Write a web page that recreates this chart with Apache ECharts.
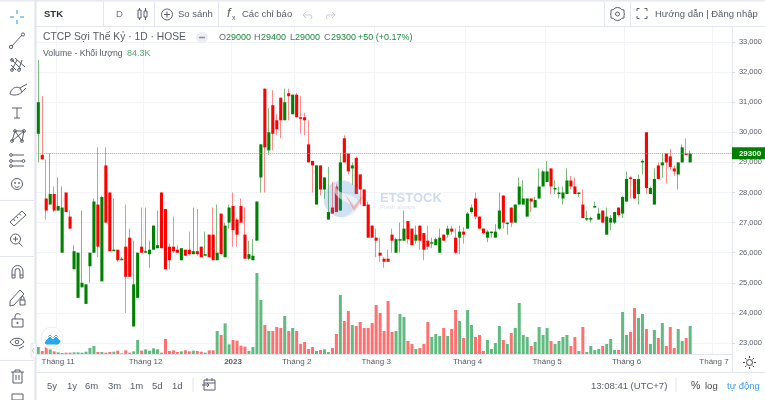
<!DOCTYPE html>
<html>
<head>
<meta charset="utf-8">
<style>html,body{margin:0;padding:0;background:#fff}#c{width:765px;height:400px}</style>
<script src="https://cdn.jsdelivr.net/npm/echarts@6/dist/echarts.min.js"></script>
</head>
<body>
<div id="c"></div>
<script>
const opens = [29950,29250,27800,27600,27950,27400,26000,28000,27200,25450,24500,24850,24300,25550,26000,27600,25050,28900,28000,26050,26100,25750,26200,26500,23550,24500,26200,26000,25950,26100,26150,28000,27450,26200,26200,26100,25750,26100,26100,25950,26050,26200,25900,26600,26600,25750,27300,25850,27000,27550,27100,27550,26600,25800,25750,26400,28500,31450,29400,30900,30400,31150,30400,31300,30600,31250,30500,30500,29600,29050,27600,28900,28100,27100,27500,28200,27400,29800,29300,28800,29150,28600,28100,27600,26900,26500,26000,25800,25800,26600,26000,26400,26400,27050,26800,26400,26900,26650,26400,26300,26250,26000,26600,26600,26800,26500,26500,26700,26800,27350,27800,27200,26800,26500,26650,26500,26800,27900,26950,27500,27000,27600,27600,27200,27800,27500,27800,28200,28350,28800,28100,27950,27800,27950,28400,28200,27950,27600,27100,27100,27500,27100,27400,26600,27000,27000,27500,27300,27700,28500,28450,27950,29000,30000,27950,27600,28900,28900,29300,29200,28800,28600,29000,29300,29000];
const closes = [31000,29100,27400,27950,27400,27550,27500,27350,26800,26050,26000,25000,24950,26000,27700,26200,27850,27000,26050,26100,25750,25800,25200,25200,24950,26000,26000,26050,26100,26900,26250,26150,25450,25750,26050,26000,26150,25900,25950,26050,25950,25850,25950,25850,25750,26000,25950,26900,27500,26750,26600,27000,25800,25950,25900,27700,29600,29500,30000,29950,30100,30400,31000,31200,31250,30500,30450,30400,29000,28900,28900,28100,28500,27350,27300,27350,29000,29000,28700,28900,27950,28100,27550,26500,26500,26400,25900,25700,25700,26400,26450,26450,26800,26450,26250,26600,26400,26100,26200,26350,26450,26500,26400,26800,26700,26000,26700,26600,27300,27500,27200,26800,26650,26700,26700,26700,27400,27000,27000,27000,27600,28200,27800,27800,27700,27750,28200,28700,28700,28200,28150,28000,28000,28400,28200,27950,28000,27150,27150,27150,27550,27300,27000,27200,27150,27350,27250,27850,28450,28450,27800,28450,29050,28150,28150,28450,28450,29000,29000,28850,28700,29000,29500,29250,29300];
const lows = [29000,29100,27100,27600,27350,27400,26000,27350,26800,25450,24500,24850,24300,25000,26000,25850,25050,27000,26050,26050,25700,25750,24000,25200,23550,24500,26000,26000,25500,26100,26150,26150,25450,25450,26000,26000,25750,25900,25900,25950,25900,25850,25900,25850,25750,25750,25950,25850,26800,26200,26200,27000,25800,25750,25750,26400,28000,28000,29250,29400,29900,29800,30400,30400,30600,30500,29950,29900,29000,28000,27600,27900,27800,27100,27300,27350,27400,29000,28600,28250,27950,27600,27550,26500,26500,25850,25700,25500,25700,26000,26000,26000,26400,26300,26250,26300,26100,25750,26100,26150,26250,26000,26400,26500,26600,25950,25950,26300,26800,27300,27100,26800,26600,26350,26500,26500,26750,26800,26600,26850,27000,27600,27600,27200,27350,27500,27800,28200,28350,27950,27950,27800,27600,27950,28100,27950,27850,27150,27050,27000,27500,27100,27000,26600,26750,26950,27200,27150,27700,27800,27800,27600,28600,27950,27950,27600,28450,28500,28300,28750,28550,28100,29000,29250,29000];
const highs = [32400,31200,29100,29300,28200,28500,28200,28000,27400,26250,26000,27400,24950,26000,27800,29500,27900,29500,28000,27800,26100,25850,27600,26800,26400,26000,27500,27500,26400,26900,27400,28000,27450,26300,27200,26250,26150,26100,26700,27500,27450,26200,26700,26600,27500,27600,27300,27000,27600,28000,27150,27800,27500,26400,26450,27700,29600,31450,30800,31400,30600,31150,31450,31450,31250,31300,31200,30650,30400,29050,28900,28900,28500,28850,28350,28300,29300,29900,29300,29000,29200,28600,28100,27700,26900,26800,26500,25850,26100,26800,26500,27000,27400,27050,26800,26900,26900,26650,26900,26500,26500,26800,26600,26900,26900,26800,26900,26850,27350,27600,28000,27200,26800,26750,26700,26950,28000,27900,27000,27500,27600,28500,28400,27800,27800,27850,28800,28750,29050,28800,28400,28200,28200,28800,28550,28500,28000,28100,27400,27200,27700,27500,27400,27500,27250,27350,27500,27900,28700,28550,28450,28600,29100,30000,28200,28800,29000,29300,29300,29450,28900,29000,29600,29800,29400];
const volumes = [21,9,20,14,8,5,3,4,4,5,5,4,7,18,24,6,6,4,6,7,10,2,11,4,8,42,10,14,10,17,14,4,45,9,11,6,8,11,8,10,9,7,4,11,11,69,57,92,29,42,40,25,22,9,21,243,162,87,69,69,81,78,114,69,78,69,30,36,15,21,9,12,14,6,18,60,177,99,129,87,84,96,78,78,93,147,123,69,159,66,69,120,111,39,30,15,18,30,96,51,60,54,78,54,75,132,99,48,132,87,51,57,9,42,15,33,84,42,30,63,78,153,57,51,24,36,81,57,78,39,30,39,51,57,24,51,9,81,6,24,12,15,24,30,45,12,12,126,57,66,138,108,120,75,30,72,48,93,24,81,18,75,39,48,84.3];
const monthAt = {5:'Tháng 11',27:'Tháng 12',49:'2023',65:'Tháng 2',85:'Tháng 3',108:'Tháng 4',128:'Tháng 5',148:'Tháng 6',170:'Tháng 7'};
const priceTicks = [23000,33000,1000];
const lastClose = 29300;
const categories = Array.from({length:175},(_,i)=>'d'+i);

const UP='#008000', DOWN='#ff0000', INK='#5a5f6c', FONT='"Liberation Sans",Arial,sans-serif';
const isMonth = i => monthAt[i] !== undefined;
const g = [];
let pathId=0;
const line=(x1,y1,x2,y2,c=INK,w=1)=>g.push({type:'line',silent:true,z:50,shape:{x1,y1,x2,y2},style:{stroke:c,lineWidth:w}});
const circ=(cx,cy,r,c=INK,fill='none',w=1)=>g.push({type:'circle',silent:true,z:50,shape:{cx,cy,r},style:{stroke:c,fill,lineWidth:w}});
const rect=(x,y,width,height,fill,stroke,z=50,r=0)=>g.push({type:'rect',silent:true,z,shape:{x,y,width,height,r},style:{fill,stroke:stroke||'none',lineWidth:1}});
const path=(d,c=INK,fill='none',w=1,z=50)=>{
  const name='glyph'+(pathId++);
  echarts.graphic.registerShape(name,echarts.graphic.extendPath(d,{}));
  g.push({type:name,silent:true,z,style:{stroke:c,fill,lineWidth:w}});
};
const txt=(text,x,y,size,fill='#555b66',weight='normal',align='left')=>g.push({type:'text',silent:true,z:51,style:{text,x,y,font:`${weight} ${size}px ${FONT}`,fill,textAlign:align,textVerticalAlign:'middle'}});

const BORDER='#e3e6ee';
rect(0,0,765,1.5,'#e8eaf0');
rect(34.5,0,2,400,'#dfe4ee');
line(36,26.5,765,26.5,BORDER);
line(36,372.5,765,372.5,BORDER);
[103.5,154.5,218.5,604.5,630.5].forEach(x=>line(x,2,x,26,BORDER));
[200.5,256.5,360.5].forEach(y=>line(0,y,34,y,BORDER));
line(732.5,354,732.5,372,BORDER);
line(193,378,193,392,BORDER); line(676,378,676,392,BORDER);

// top toolbar
txt('STK',44,14.5,9.5,'#2a2e39','bold');
txt('D',116,14.5,9.5,'#777');
line(139.5,8,139.5,20,INK); rect(138,10,3,8,'#fff',INK);
line(145.5,8,145.5,20,INK); rect(144,11,3,6,'#fff',INK);
circ(167,14.5,5.5); line(167,11.5,167,17.5); line(164,14.5,170,14.5);
txt('So sánh',178,14.5,9.5);
txt('f',227,13.5,13,INK,'italic'); txt('x',232,18,7,INK);
txt('Các chỉ báo',242,14.5,9.5);
path('M306 12 L303 15 L306 18 M303 15 H311 A3 3 0 0 1 311 19','#c9ccd4');
path('M332 12 L335 15 L332 18 M335 15 H327 A3 3 0 0 0 327 19','#c9ccd4');
circ(617.5,14,2); path('M617.5 7.5 L620 8 L621.5 9.5 L624 10 L624 13 L624.5 14 L624 15.5 L624 18 L621.5 18.5 L620 20 L617.5 20.5 L615 20 L613.5 18.5 L611 18 L611 15.5 L610.5 14 L611 13 L611 10 L613.5 9.5 L615 8 Z');
path('M637 11 V8.5 H639.5 M644.5 8.5 H647 V11 M647 16 V18.5 H644.5 M639.5 18.5 H637 V16');
txt('Hướng dẫn | Đăng nhập',655,14.5,9.5);

// legend rows
txt('CTCP Sợi Thế Kỷ · 1D · HOSE',43,37,10.3);
circ(202,37.5,5.5,'#eceef3','#eceef3'); line(199,37.5,205,37.5,'#8a8f9c',1.5);
[['O','29000',219,226],['H','29400',254,261],['L','29000',290,295],['C','29300',324,331]].forEach(([k,v,a,b])=>{
  txt(k,a,38,9,'#666'); txt(v,b,38,9,'#1c8a3a');
});
txt('+50 (+0.17%)',358,38,9,'#1c8a3a');
txt('Volume - Khối lượng',43,54,8.7);
txt('84.3K',127,54,9,'#4ea66a');

// left toolbar
['10 17 14 17','20 17 24 17','17 10 17 14','17 20 17 24'].forEach(s=>{const a=s.split(' ').map(Number);line(a[0],a[1],a[2],a[3],'#2196f3');});
line(12,46,22,35); circ(11,47,1.6); circ(23,34.5,1.6);
line(11,59,21,69); line(15,58,25,67); line(11,65,16,70); line(17,60,12,70); line(22,60,19,69); circ(12,70,1.4); circ(19,70,1.4); circ(12,60,1.4);
path('M10 94 C11 88 16 86 20 88 L22 92 C19 95 14 96 10 94 Z M20 88 L27 84 M22 92 L26 88');
line(17,108,17,118); line(12,108,22,108); line(14,118,20,118);
line(12,141,15,131); line(15,131,22,141); line(15,131,24,131); line(24,131,12,141); line(24,131,22,141);
[[12,141],[22,141],[15,131],[24,131]].forEach(p=>circ(p[0],p[1],1.4));
line(12,155,24,155); line(12,161,22,161); line(12,166,24,166); circ(11,155,1.4); circ(11,161,1.4); circ(11,166,1.4); circ(23.5,161,1.4);
circ(17,184,5.5); circ(15,183,.5,INK,INK); circ(19,183,.5,INK,INK); path('M14.5 186 A3 3 0 0 0 19.5 186');
path('M10 222 L22 211 L26 215 L14 226 Z M13.5 219 L15 221 M16.5 216.5 L18 218 M19.5 214 L21 215.5');
circ(15.5,239,5); line(19,243,22.5,246.5); line(15.5,236.5,15.5,241.5); line(13,239,18,239);
path('M12 278 V271 A5.5 5.5 0 0 1 23 271 V278 H20 V271 A2.5 2.5 0 0 0 15 271 V278 Z M12 275 H15 M20 275 H23');
path('M10 301 L20 290 L24 294 L14 305 L10 306 Z M20 300 H25 V305 H20 Z M21 300 V298 A1.5 1.5 0 0 1 24 298 V300');
path('M12 319 H23 V327 H12 Z M15 319 V316 A3 3 0 0 1 20.5 315'); circ(17.5,323,.7,INK,INK);
path('M10 342 C13 337 21 337 24 342 C21 347 13 347 10 342 Z'); circ(17,342,1.8); line(19,349,24,346);
path('M11 372 H24 M15 372 V370 H20 V372 M13 372 V383 H22 V372 M16 375 V380 M19 375 V380');
rect(12,394,11,6,'#fff',INK);
rect(31,343,5,15,'#fff','#e3e6ee',52,2);
path('M34 348 L32.5 350.5 L34 353','#b8bdc9','none',1,53);

// bottom toolbar
[['5y',47],['1y',67],['6m',85],['3m',108],['1m',130],['5d',152],['1d',172]].forEach(([t,x])=>txt(t,x,386,9.5));
path('M204 380 H215 V390 H204 Z M204 383 H215 M207 378 V381 M212 378 V381 M202 385 H209 M207 383 L209 385 L207 387');
txt('13:08:41 (UTC+7)',591,386,9.5);
txt('%',691,386,10.5,'#444');
txt('log',705,386,9.5,'#444');
txt('tự động',727,386,9.5,'#3d9bf0');
circ(749.5,362.5,3,'#444');
[[749.5,356,749.5,358],[749.5,367,749.5,369],[743,362.5,745,362.5],[754,362.5,756,362.5],[745,358,746.4,359.4],[752.6,365.6,754,367],[754,358,752.6,359.4],[746.4,365.6,745,367]].forEach(a=>line(a[0],a[1],a[2],a[3],'#444'));

// bottom-left badge
circ(52,338,11,'#eceef2','#fff');
path('M45 343 L50 335 L53 339 L56 335 L60 341 A3 3 0 0 1 58 344 H47 A2 2 0 0 1 45 343 Z','#2aa6ec','#2aa6ec');
path('M45 341 L50 336 L53 339 L56 336 L60 340','#fff');

// watermark
g.push({type:'circle',silent:true,z:45,shape:{cx:342,cy:199,r:18.5},style:{fill:'rgba(70,140,205,.26)'}});
path('M338 181 C328 192 340 200 350 204 C358 208 350 216 342 217 C362 217 368 199 346 194 C336 192 334 186 338 181 Z','none','rgba(255,255,255,.55)',1,45);
path('M345 194 L354 206 L365 193 L358 205 L354 211 Z','none','rgba(255,60,60,.35)',1,45);
g.push({type:'text',silent:true,z:45,style:{text:'ETSTOCK',x:380,y:198,font:`bold 13px ${FONT}`,fill:'rgba(100,150,205,.33)',textVerticalAlign:'middle'}});
g.push({type:'text',silent:true,z:45,style:{text:'Fresh always',x:380,y:207,font:`6px ${FONT}`,fill:'rgba(130,160,200,.3)',textVerticalAlign:'middle'}});

const chart = echarts.init(document.getElementById('c'),null,{renderer:'canvas'});
const gl={left:36.3,width:695.6};
const drawBody=(params,api)=>{
  const i=api.value(0), o=api.value(1), c=api.value(2);
  const a=api.coord([i,o]), b=api.coord([i,c]);
  const top=Math.min(a[1],b[1]), h=Math.max(Math.abs(a[1]-b[1]),1.2);
  return {type:'rect',shape:{x:a[0]-1.55,y:top,width:3.1,height:h},style:{fill:c>=o?UP:DOWN}};
};
chart.setOption({
  animation:false,
  backgroundColor:'#fff',
  grid:[
    {...gl,top:42,height:301},
    {...gl,top:27,height:327}
  ],
  xAxis:[
    {type:'category',gridIndex:0,data:categories,show:false,boundaryGap:true},
    {type:'category',gridIndex:1,data:categories,boundaryGap:true,
      axisLine:{show:true,lineStyle:{color:'#e3e6ee'}},
      axisTick:{show:false},
      axisLabel:{interval:i=>isMonth(i),formatter:(v,i)=>{const t=monthAt[+v.slice(1)]||'';return t==='2023'?'{b|2023}':t;},
        margin:4,fontSize:8,color:'#555b66',fontFamily:FONT,rich:{b:{fontWeight:'bold',fontSize:8,color:'#555b66',fontFamily:FONT}}},
      splitLine:{show:true,interval:i=>isMonth(i),lineStyle:{color:'#f3f4f7'}}}
  ],
  yAxis:[
    {type:'value',gridIndex:0,position:'right',min:priceTicks[0],max:priceTicks[1],interval:priceTicks[2],
      axisLine:{show:false},axisTick:{show:true,length:3,lineStyle:{color:'#d8dbe3'}},
      axisLabel:{margin:7,fontSize:7.5,color:'#555b66',fontFamily:FONT},
      splitLine:{lineStyle:{color:'#f3f4f7'}}},
    {type:'value',gridIndex:1,position:'right',min:0,max:981,axisLabel:{show:false},axisTick:{show:false},splitLine:{show:false},
      axisLine:{show:true,lineStyle:{color:'#e3e6ee'}}}
  ],
  series:[
    {type:'bar',name:'Volume',xAxisIndex:1,yAxisIndex:1,barWidth:3,z:2,
      data:volumes.map((v,i)=>({value:v,itemStyle:{color:closes[i]>=opens[i]?'#61bb80':'#ff7171'}}))},
    {type:'candlestick',name:'STK',xAxisIndex:0,yAxisIndex:0,barWidth:1,z:3,
      data:opens.map((o,i)=>[o,closes[i],lows[i],highs[i]]),
      itemStyle:{color:'#7cbc7c',color0:'#ff8a8a',borderColor:'#7cbc7c',borderColor0:'#ff8a8a',borderWidth:1},
      markLine:{silent:true,symbol:'none',animation:false,
        lineStyle:{color:'#7dbb7d',type:'dotted',width:1},
        label:{show:true,position:'end',distance:0,formatter:p=>String(p.value),backgroundColor:UP,color:'#fff',fontWeight:'bold',fontSize:8,fontFamily:FONT,padding:[2,7,2,7]},
        data:[{yAxis:lastClose}]}},
    {type:'custom',name:'Body',xAxisIndex:0,yAxisIndex:0,z:4,clip:false,silent:true,
      renderItem:drawBody,encode:{x:0,y:[1,2]},
      data:opens.map((o,i)=>[i,o,closes[i]])}
  ],
  graphic:{elements:g}
});
</script>
</body>
</html>
